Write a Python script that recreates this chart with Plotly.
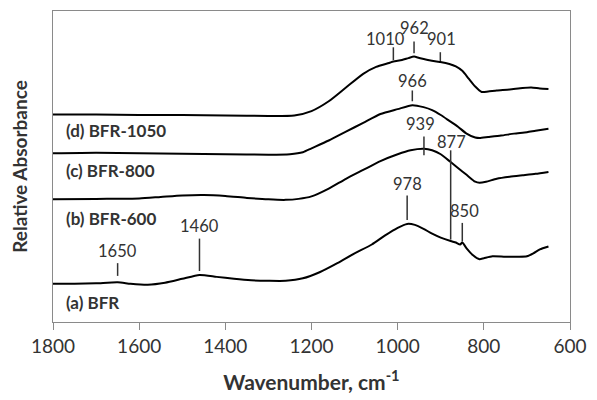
import plotly.graph_objects as go

# FTIR spectra (stacked, arbitrary absorbance units)
wn_a = [1800, 1750, 1700, 1650, 1620, 1580, 1540, 1500, 1460, 1420, 1380, 1340, 1300, 1260, 1220,
        1180, 1140, 1100, 1060, 1030, 1000, 978, 960, 940, 920, 900, 877, 865, 855, 850, 840, 825,
        810, 800, 780, 750, 720, 700, 685, 670, 650]
abs_a = [0.39, 0.39, 0.395, 0.405, 0.39, 0.38, 0.40, 0.44, 0.48, 0.46, 0.44, 0.425, 0.42, 0.42, 0.445,
         0.51, 0.60, 0.70, 0.79, 0.88, 0.96, 1.00, 0.99, 0.95, 0.90, 0.86, 0.825, 0.81, 0.79, 0.81, 0.75, 0.68,
         0.64, 0.65, 0.67, 0.665, 0.665, 0.67, 0.70, 0.74, 0.77]

wn_b = [1800, 1700, 1600, 1550, 1500, 1450, 1400, 1350, 1300, 1260, 1230, 1200, 1160, 1120, 1080,
        1040, 1000, 970, 939, 920, 900, 877, 860, 840, 820, 810, 795, 770, 740, 710, 680, 650]
abs_b = [1.25, 1.255, 1.26, 1.275, 1.29, 1.295, 1.285, 1.265, 1.25, 1.245, 1.255, 1.28, 1.36, 1.46, 1.55,
         1.64, 1.71, 1.75, 1.765, 1.75, 1.71, 1.63, 1.57, 1.50, 1.43, 1.42, 1.43, 1.46, 1.48, 1.495, 1.51, 1.53]

wn_c = [1800, 1700, 1600, 1500, 1400, 1300, 1250, 1220, 1200, 1160, 1120, 1080, 1040, 1000, 966,
        940, 920, 900, 880, 860, 840, 820, 810, 790, 760, 730, 700, 680, 650]
abs_c = [1.72, 1.725, 1.72, 1.715, 1.71, 1.705, 1.71, 1.73, 1.77, 1.85, 1.94, 2.03, 2.12, 2.17, 2.21,
         2.19, 2.16, 2.11, 2.05, 1.99, 1.92, 1.88, 1.875, 1.885, 1.90, 1.92, 1.935, 1.95, 1.97]

wn_d = [1800, 1700, 1600, 1500, 1400, 1300, 1240, 1200, 1160, 1120, 1080, 1050, 1020, 1010, 990,
        975, 962, 950, 930, 910, 901, 880, 865, 850, 835, 820, 805, 790, 770, 740, 710, 690, 670, 650]
abs_d = [2.115, 2.115, 2.11, 2.11, 2.105, 2.10, 2.105, 2.15, 2.25, 2.39, 2.53, 2.60, 2.64, 2.655, 2.67,
         2.69, 2.705, 2.69, 2.67, 2.655, 2.65, 2.63, 2.605, 2.56, 2.48, 2.40, 2.345, 2.35, 2.36, 2.37,
         2.385, 2.39, 2.38, 2.375]

series_names = ["(a) BFR", "(b) BFR-600", "(c) BFR-800", "(d) BFR-1050"]
series_label_y = [0.20, 1.06, 1.54, 1.95]

# Peak assignments: label, wavenumber, marker bottom, marker top, label height
peak_labels = ["1650", "1460", "978", "877", "850", "939", "966", "1010", "962", "901"]
peak_wn = [1650, 1460, 978, 877, 850, 939, 966, 1010, 962, 901]
peak_lo = [0.47, 0.52, 1.04, 0.84, 0.82, 1.70, 2.25, 2.67, 2.74, 2.66]
peak_hi = [0.60, 0.85, 1.29, 1.75, 1.01, 1.89, 2.36, 2.80, 2.86, 2.75]
peak_text_y = [0.72, 0.98, 1.41, 1.83, 1.13, 2.02, 2.46, 2.88, 3.00, 2.88]
peak_text_dx = [0, 0, 0, 1, 2, -3, 0, -8, 0, 1]

tick_vals = [1800, 1600, 1400, 1200, 1000, 800, 600]

FONT = "Lato"
TXT = "#333333"
FRAME = "#8a8a8a"

fig = go.Figure()
for wn, ab, name in zip([wn_a, wn_b, wn_c, wn_d], [abs_a, abs_b, abs_c, abs_d], series_names):
    fig.add_trace(go.Scatter(x=wn, y=ab, mode="lines", name=name,
                             line=dict(color="black", width=2, shape="spline", smoothing=0.6),
                             showlegend=False))

for name, y in zip(series_names, series_label_y):
    fig.add_annotation(x=1775, y=y, text="<b>" + name + "</b>", showarrow=False,
                       xanchor="left", yanchor="middle",
                       font=dict(family=FONT, size=17, color=TXT))

for lab, w, lo, hi, ty, dx in zip(peak_labels, peak_wn, peak_lo, peak_hi, peak_text_y, peak_text_dx):
    fig.add_shape(type="line", x0=w, x1=w, y0=lo, y1=hi,
                  line=dict(color="#333333", width=1.5))
    fig.add_annotation(x=w, y=ty, text=lab, showarrow=False, xshift=dx,
                       xanchor="center", yanchor="middle",
                       font=dict(family=FONT, size=16.5, color=TXT))

fig.update_layout(
    width=597, height=400,
    margin=dict(l=53, r=18, t=10, b=73),
    plot_bgcolor="white", paper_bgcolor="white",
    xaxis=dict(range=[1800, 600], tickvals=tick_vals, ticks="outside", ticklen=7,
               tickcolor=FRAME, showline=True, linecolor=FRAME, linewidth=1, mirror=True,
               showgrid=False, zeroline=False,
               tickfont=dict(family=FONT, size=19, color=TXT),
               title=dict(text="<b>Wavenumber, cm<sup>-1</sup></b>", standoff=19,
                          font=dict(family=FONT, size=21, color=TXT))),
    yaxis=dict(range=[0, 3.17], showticklabels=False, ticks="", showline=True,
               linecolor=FRAME, linewidth=1, mirror=True, showgrid=False, zeroline=False,
               title=dict(text="<b>Relative Absorbance</b>", standoff=19,
                          font=dict(family=FONT, size=19, color=TXT))),
)

fig.write_html("out.html")
